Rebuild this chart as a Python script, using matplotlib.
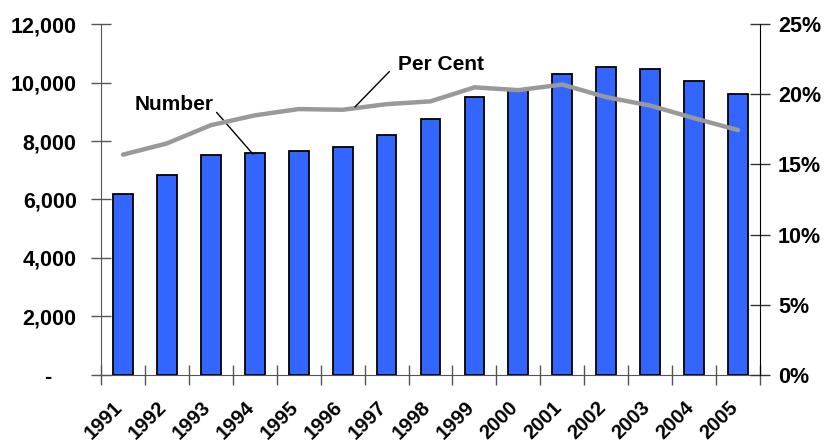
import matplotlib
matplotlib.use("Agg")
import matplotlib.pyplot as plt
import matplotlib.transforms as mtransforms
from matplotlib.ticker import FixedLocator

plt.rcParams['font.family'] = ['Liberation Sans', 'DejaVu Sans']
plt.rcParams['font.weight'] = 'bold'

years = ['1991', '1992', '1993', '1994', '1995', '1996', '1997', '1998',
         '1999', '2000', '2001', '2002', '2003', '2004', '2005']
number = [6200, 6850, 7530, 7600, 7650, 7800, 8200, 8770,
          9500, 9780, 10300, 10530, 10460, 10050, 9600]
per_cent = [15.7, 16.5, 17.8, 18.5, 18.95, 18.9, 19.3, 19.5,
            20.5, 20.3, 20.7, 19.8, 19.2, 18.3, 17.45]
left_ticks = [0, 2000, 4000, 6000, 8000, 10000, 12000]
left_labels = ['-    ', '2,000', '4,000', '6,000', '8,000', '10,000', '12,000']
right_ticks = [0, 5, 10, 15, 20, 25]
right_labels = ['0%', '5%', '10%', '15%', '20%', '25%']

fig = plt.figure(figsize=(8.24, 4.44), dpi=100)
ax = fig.add_axes([0.1226, 0.156, 0.7997, 0.7894])
ax2 = ax.twinx()

x = list(range(len(years)))
ax.bar(x, number, width=0.45, color='#3366FF', edgecolor='black',
       linewidth=1.3, zorder=2)
ax.set_xlim(-0.5, len(years) - 0.5)
ax.set_ylim(0, 12000)
ax.set_yticks(left_ticks)
ax.set_yticklabels(left_labels, fontsize=15.5, fontweight='bold')

# category boundaries carry the tick marks, labels sit under the bars
ax.xaxis.set_major_locator(FixedLocator([i - 0.5 for i in range(len(years) + 1)]))
ax.xaxis.set_major_formatter(plt.NullFormatter())
ax.xaxis.set_minor_locator(FixedLocator(x))
ax.set_xticklabels(years, minor=True, fontsize=14.5, fontweight='bold',
                   rotation=45, ha='right', rotation_mode='anchor')
ax.tick_params(axis='x', which='minor', length=0, pad=16.5)
offset = mtransforms.ScaledTranslation(-7 / 72, 0, fig.dpi_scale_trans)
for lbl in ax.get_xticklabels(minor=True):
    lbl.set_transform(lbl.get_transform() + offset)
ax.tick_params(axis='x', which='major', direction='inout', length=14,
               color='#555555', width=1)
ax.tick_params(axis='y', direction='inout', length=14, color='#555555',
               width=1, pad=10.5)

ax2.plot(x, per_cent, color='#999999', linewidth=3.2, solid_capstyle='round',
         zorder=3)
ax2.set_ylim(0, 25)
ax2.set_yticks(right_ticks)
ax2.set_yticklabels(right_labels, fontsize=15.5, fontweight='bold')
ax2.tick_params(axis='y', direction='inout', length=14, color='#333333',
                width=1, pad=6)

for a in (ax, ax2):
    a.spines['top'].set_visible(False)
ax.spines['right'].set_visible(False)
ax2.spines['left'].set_visible(False)
ax2.spines['bottom'].set_visible(False)
ax.spines['left'].set_color('#555555')
ax.spines['bottom'].set_color('#555555')
ax2.spines['right'].set_color('black')

ax.set_zorder(1)
ax2.set_zorder(2)
ax2.patch.set_visible(False)

# series labels with leader lines
ax.annotate('Number', xy=(2.96, 7550), xytext=(0.27, 9065),
            fontsize=15, fontweight='bold', ha='left', va='baseline',
            arrowprops=dict(arrowstyle='-', color='black', lw=1,
                            shrinkA=0, shrinkB=0, relpos=(1.0, 0.25)))
ax2.annotate('Per Cent', xy=(5.28, 19.1), xytext=(6.26, 21.73),
             fontsize=15, fontweight='bold', ha='left', va='baseline',
             arrowprops=dict(arrowstyle='-', color='black', lw=1,
                             shrinkA=6, shrinkB=0, relpos=(0.0, 0.6)))

fig.savefig('out.png', dpi=100)
